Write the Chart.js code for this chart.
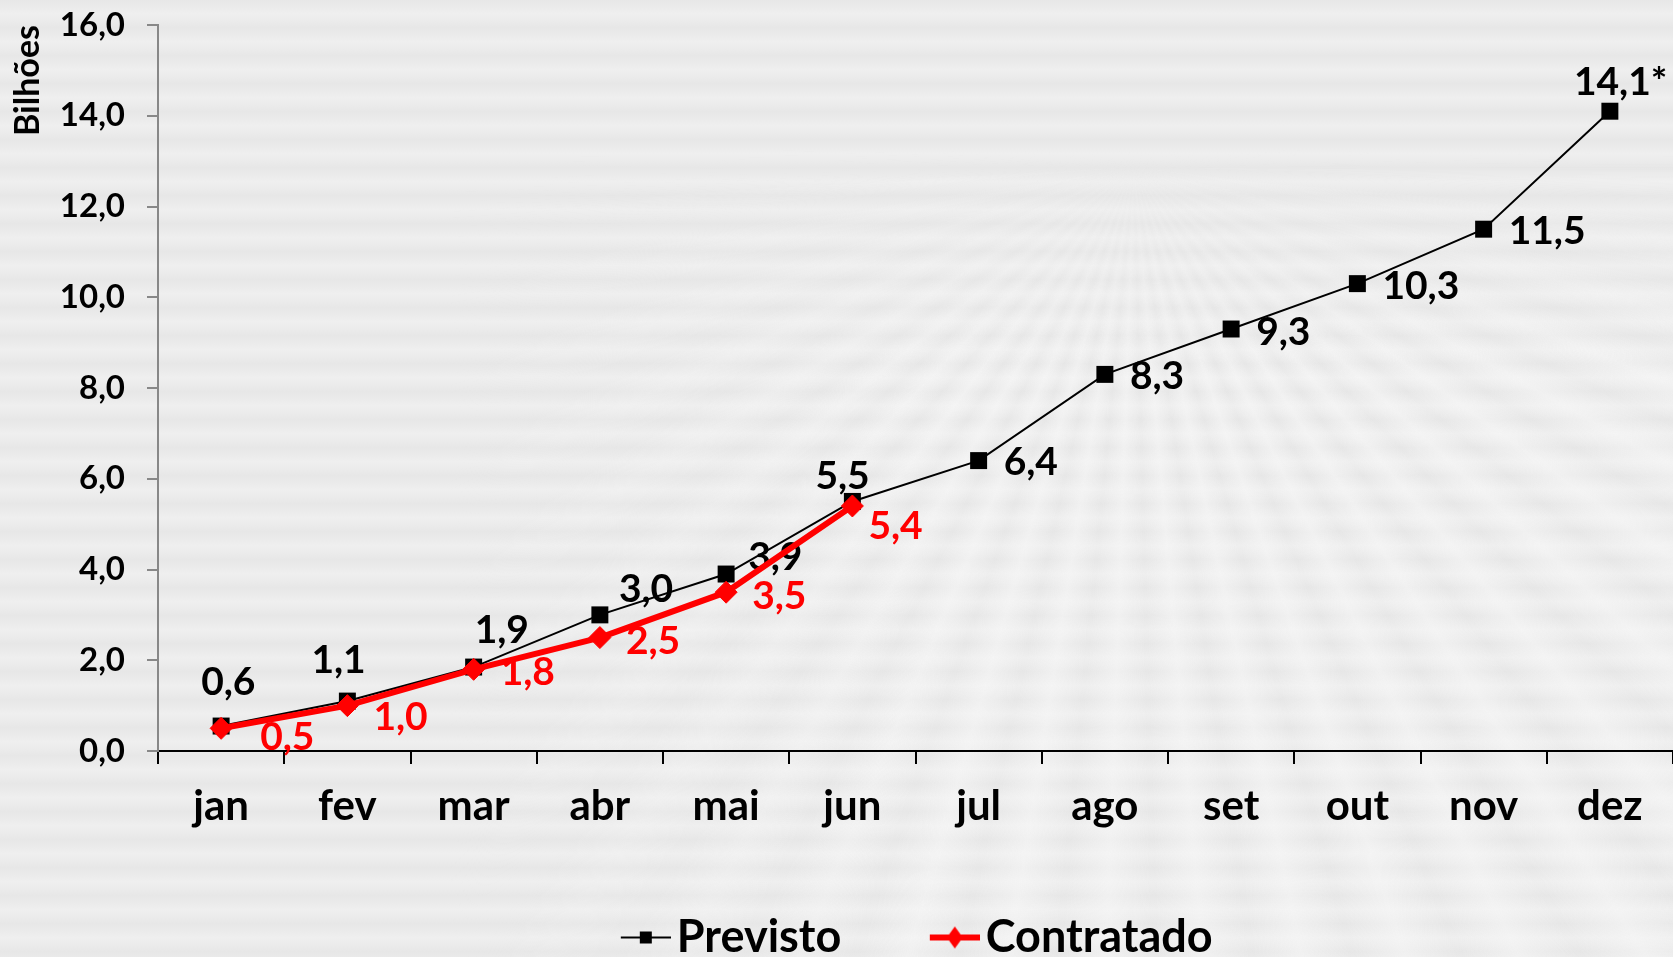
<!DOCTYPE html>
<html lang="pt-BR">
<head>
<meta charset="UTF-8">
<title>Previsto x Contratado</title>
<script src="https://cdn.jsdelivr.net/npm/chart.js"></script>
<style>
    html, body { margin: 0; padding: 0; }
    body {
        position: relative;
        width: 1673px;
        height: 957px;
        overflow: hidden;
        background-color: #ececec;
        background-image: repeating-linear-gradient(to bottom, #e7e7e7 0px, #efefef 14px, #e7e7e7 28px);
        font-family: Lato, sans-serif;
    }
    /* raios claros do fundo */
    #raios {
        position: absolute;
        left: 0; top: 0;
        width: 1673px; height: 957px;
        background: repeating-conic-gradient(from 0deg at 1134px 167px,
            rgba(248,248,248,0.55) 0deg, rgba(248,248,248,0) 3.5deg, rgba(248,248,248,0.55) 7deg);
        -webkit-mask-image: linear-gradient(to right, rgba(0,0,0,0) 450px, rgba(0,0,0,1) 950px),
                            linear-gradient(to bottom, rgba(0,0,0,0) 150px, rgba(0,0,0,1) 380px);
        -webkit-mask-composite: source-in;
        mask-composite: intersect;
    }
    #grafico { position: absolute; left: 0; top: 0; display: block; }
</style>
</head>
<body>
<div id="raios"></div>
<canvas id="grafico" width="1673" height="957"></canvas>

<script>
    // dados (bilhões)
    const meses = ['jan', 'fev', 'mar', 'abr', 'mai', 'jun', 'jul', 'ago', 'set', 'out', 'nov', 'dez'];
    const previsto = [0.55, 1.1, 1.85, 3.0, 3.9, 5.5, 6.4, 8.3, 9.3, 10.3, 11.5, 14.1];
    const contratado = [0.5, 1.0, 1.8, 2.5, 3.5, 5.4, null, null, null, null, null, null];
    const notasPrevisto = ['', '', '', '', '', '', '', '', '', '', '', '*'];
    const eixoY = { min: 0, max: 16, passo: 2 };

    const fonte = 'Lato, sans-serif';
    const fmt = v => v.toFixed(1).replace('.', ',');

    // deslocamento dos rótulos em relação ao ponto (alinhados à esquerda)
    const desloc = [
        [[-20, -44], [-36, -41], [1, -37], [19, -25], [22, -17], [-37, -25],
         [25, 2], [25, 2], [25, 3], [25, 3], [25, 2], [-36, -29]],
        [[39, 9], [26, 12], [27, 3], [26, 4], [26, 4], [16, 20]]
    ];

    const rotulos = {
        id: 'rotulos',
        beforeDatasetsDraw(chart) {
            const ctx = chart.ctx;
            ctx.save();
            ctx.font = 'bold 39px ' + fonte;
            ctx.textAlign = 'left';
            ctx.textBaseline = 'middle';
            chart.data.datasets.forEach((ds, i) => {
                const meta = chart.getDatasetMeta(i);
                meta.data.forEach((pt, j) => {
                    const v = ds.data[j];
                    if (v == null) return;
                    const d = desloc[i][j];
                    const nota = i === 0 ? notasPrevisto[j] : '';
                    ctx.fillStyle = ds.borderColor;
                    ctx.fillText(fmt(v) + nota, pt.x + d[0], pt.y + d[1]);
                });
            });
            ctx.restore();
        }
    };

    // ícone da legenda: linha com marcador encostado no texto
    function icone(cor, espessura, forma) {
        const c = document.createElement('canvas');
        c.width = 69;
        c.height = 28;
        const g = c.getContext('2d');
        g.strokeStyle = cor;
        g.fillStyle = cor;
        g.lineWidth = espessura;
        g.beginPath();
        g.moveTo(19, 14);
        g.lineTo(69, 14);
        g.stroke();
        if (forma === 'rect') {
            g.fillRect(38, 8, 12, 12);
        } else {
            g.beginPath();
            g.moveTo(44, 3);
            g.lineTo(52, 14);
            g.lineTo(44, 25);
            g.lineTo(36, 14);
            g.closePath();
            g.fill();
        }
        return c;
    }
    const icones = [icone('#000000', 2, 'rect'), icone('#ff0000', 6, 'rectRot')];

    new Chart(document.getElementById('grafico').getContext('2d'), {
        type: 'line',
        data: {
            labels: meses,
            datasets: [
                {
                    label: 'Previsto',
                    data: previsto,
                    borderColor: '#000000',
                    backgroundColor: '#000000',
                    borderWidth: 2,
                    pointStyle: 'rect',
                    pointRadius: 12,
                    pointBorderWidth: 0,
                    tension: 0,
                    order: 2
                },
                {
                    label: 'Contratado',
                    data: contratado,
                    borderColor: '#ff0000',
                    backgroundColor: '#ff0000',
                    borderWidth: 6,
                    pointStyle: 'rectRot',
                    pointRadius: 11,
                    pointBorderWidth: 1,
                    tension: 0,
                    order: 1
                }
            ]
        },
        options: {
            responsive: false,
            animation: false,
            layout: { autoPadding: false, padding: { top: 0, left: 0, right: 0, bottom: -13 } },
            plugins: {
                tooltip: { enabled: false },
                legend: {
                    position: 'bottom',
                    fullSize: false,
                    labels: {
                        usePointStyle: true,
                        pointStyleWidth: 36,
                        padding: 86,
                        color: '#000',
                        font: { family: fonte, size: 45, weight: 'bold' },
                        generateLabels(chart) {
                            const itens = Chart.defaults.plugins.legend.labels.generateLabels(chart);
                            itens.forEach(it => { it.pointStyle = icones[it.datasetIndex]; });
                            return itens;
                        },
                        sort: (a, b) => a.datasetIndex - b.datasetIndex
                    }
                }
            },
            scales: {
                x: {
                    offset: true,
                    grid: { offset: true, drawOnChartArea: false, tickLength: 13, color: '#000', lineWidth: 2 },
                    border: { color: '#000', width: 2 },
                    ticks: {
                        color: '#000',
                        font: { family: fonte, size: 42, weight: 'bold' },
                        padding: 17,
                        maxRotation: 0,
                        autoSkip: false
                    },
                    afterFit: s => { s.height = 78; s.paddingLeft = 0; s.paddingRight = 0; }
                },
                y: {
                    min: eixoY.min,
                    max: eixoY.max,
                    grid: { drawOnChartArea: false, tickLength: 11, color: '#888', lineWidth: 2 },
                    border: { color: '#888', width: 2 },
                    ticks: {
                        stepSize: eixoY.passo,
                        color: '#000',
                        padding: 22,
                        font: { family: fonte, size: 33, weight: 'bold' },
                        callback: v => fmt(v)
                    },
                    title: {
                        display: true,
                        text: 'Bilhões',
                        align: 'end',
                        color: '#000',
                        font: { family: fonte, size: 34, weight: 'bold' },
                        padding: { top: 8, bottom: 0 }
                    },
                    afterFit: s => { s.width = 158; s.paddingTop = 25; s.paddingBottom = 0; }
                }
            }
        },
        plugins: [rotulos]
    });
</script>
</body>
</html>
